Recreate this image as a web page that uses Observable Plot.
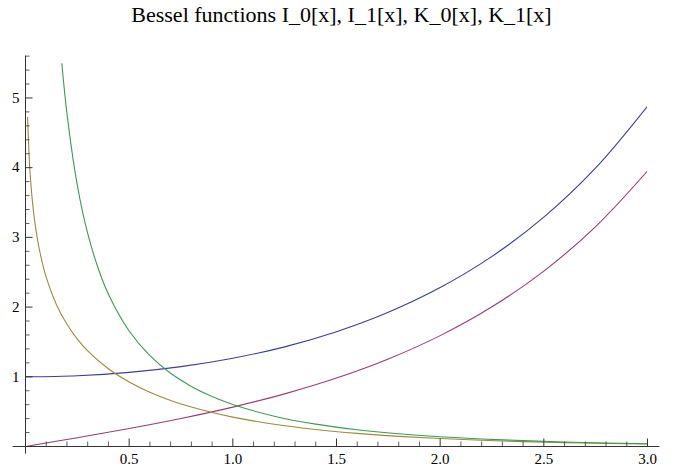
<!DOCTYPE html>
<html>
<head>
<meta charset="utf-8">
<script src="https://cdn.jsdelivr.net/npm/d3@7"></script>
<script src="https://cdn.jsdelivr.net/npm/@observablehq/plot@0.6"></script>
<style>
  html, body { margin: 0; padding: 0; background: #fff; }
  #title {
    width: 677px; height: 40px; box-sizing: border-box; padding-top: 4px; padding-left: 6px;
    text-align: center; font-family: 'Liberation Serif', 'DejaVu Serif', serif;
    font-size: 22px; line-height: 22px; color: #000;
  }
  #chart svg text { font-family: 'Liberation Serif', 'DejaVu Serif', serif !important; font-size: 15px !important; }
</style>
</head>
<body>
<div id="title">Bessel functions I_0[x], I_1[x], K_0[x], K_1[x]</div>
<div id="chart"></div>
<script>
// ---- data ----
const xI = [0, 0.25, 0.5, 0.75, 1.0, 1.25, 1.5, 1.75, 2.0, 2.25, 2.5, 2.75, 3.0];
const I0 = [1, 1.0157, 1.0635, 1.1456, 1.2661, 1.4296, 1.6467, 1.9253, 2.2796, 2.7271, 3.2898, 3.9959, 4.8808];
const I1 = [0, 0.1260, 0.2579, 0.4020, 0.5652, 0.7553, 0.9817, 1.2555, 1.5906, 2.0040, 2.5167, 3.1554, 3.9534];

const xK0 = [0.01, 0.02, 0.03, 0.04, 0.05, 0.07, 0.1, 0.15, 0.2, 0.25, 0.3, 0.4, 0.5, 0.6, 0.7, 0.8, 0.9, 1.0, 1.2, 1.4, 1.6, 1.8, 2.0, 2.2, 2.4, 2.6, 2.8, 3.0];
const K0 = [4.7212, 4.0285, 3.6235, 3.3365, 3.1142, 2.7798, 2.4271, 2.0300, 1.7527, 1.5415, 1.3725, 1.1145, 0.9244, 0.7775, 0.6605, 0.5653, 0.4867, 0.4210, 0.3185, 0.2437, 0.1880, 0.1459, 0.1139, 0.0893, 0.0702, 0.0554, 0.0438, 0.0347];

const xK1 = [0.15, 0.175, 0.2, 0.25, 0.3, 0.35, 0.4, 0.5, 0.6, 0.7, 0.8, 0.9, 1.0, 1.2, 1.4, 1.6, 1.8, 2.0, 2.2, 2.4, 2.6, 2.8, 3.0];
const K1 = [6.4775, 5.5065, 4.7760, 3.7470, 3.0560, 2.5610, 2.1844, 1.6564, 1.3028, 1.0503, 0.8618, 0.7165, 0.6019, 0.4346, 0.3208, 0.2406, 0.1826, 0.1399, 0.1079, 0.0837, 0.0653, 0.0511, 0.0402];

const seriesNames = ["I_0", "I_1", "K_0", "K_1"];
const seriesColors = ["#3D3D99", "#993D71", "#998B3D", "#3D9956"];

const xMajor = [0.5, 1.0, 1.5, 2.0, 2.5, 3.0];
const xMajorLabels = ["0.5", "1.0", "1.5", "2.0", "2.5", "3.0"];
const xMinor = [0.1, 0.2, 0.3, 0.4, 0.6, 0.7, 0.8, 0.9, 1.1, 1.2, 1.3, 1.4, 1.6, 1.7, 1.8, 1.9, 2.1, 2.2, 2.3, 2.4, 2.6, 2.7, 2.8, 2.9];
const yMajor = [1, 2, 3, 4, 5];
const yMajorLabels = ["1", "2", "3", "4", "5"];
const yMinor = [0.2, 0.4, 0.6, 0.8, 1.2, 1.4, 1.6, 1.8, 2.2, 2.4, 2.6, 2.8, 3.2, 3.4, 3.6, 3.8, 4.2, 4.4, 4.6, 4.8, 5.2, 5.4, 5.6];

// ---- build table ----
const rows = [];
xI.forEach((x, i) => { rows.push({s: "I_0", x, y: I0[i]}); });
xI.forEach((x, i) => { rows.push({s: "I_1", x, y: I1[i]}); });
xK0.forEach((x, i) => { rows.push({s: "K_0", x, y: K0[i]}); });
xK1.forEach((x, i) => { rows.push({s: "K_1", x, y: K1[i]}); });

// ---- layout ----
const W = 677, H = 426;
const mL = 25, mR = 30, mT = 23.3, mB = 20;
const xDom = [0, 3], yDom = [0, 5.49];
const kx = (W - mL - mR) / (xDom[1] - xDom[0]);
const ky = (H - mT - mB) / (yDom[1] - yDom[0]);
const padX = 0.06, padY = 0.11;
const majLen = 7.5, minLen = 4.5;
const axisColor = "#333";
const font = "'Liberation Serif', 'DejaVu Serif', serif";

const chart = Plot.plot({
  width: W, height: H,
  marginLeft: mL, marginRight: mR, marginTop: mT, marginBottom: mB,
  x: {domain: xDom, axis: null},
  y: {domain: yDom, axis: null},
  color: {domain: seriesNames, range: seriesColors},
  style: {fontFamily: font, background: "white"},
  marks: [
    Plot.line(rows, {x: "x", y: "y", z: "s", stroke: "s", strokeWidth: 1.1, curve: "catmull-rom", clip: true}),
    // axes lines
    Plot.ruleY([0], {x1: xDom[0] - padX, x2: xDom[1] + padX, stroke: axisColor, strokeWidth: 1}),
    Plot.ruleX([0], {y1: yDom[0] - padY, y2: yDom[1] + padY, stroke: axisColor, strokeWidth: 1}),
    // x ticks
    Plot.ruleX(xMajor, {x: d => d, y1: 0, y2: majLen / ky, stroke: axisColor, strokeWidth: 1}),
    Plot.ruleX(xMinor, {x: d => d, y1: 0, y2: minLen / ky, stroke: axisColor, strokeWidth: 0.8}),
    // y ticks
    Plot.ruleY(yMajor, {y: d => d, x1: 0, x2: majLen / kx, stroke: axisColor, strokeWidth: 1}),
    Plot.ruleY(yMinor, {y: d => d, x1: 0, x2: minLen / kx, stroke: axisColor, strokeWidth: 0.8}),
    // labels
    Plot.text(xMajor, {x: d => d, y: 0, text: (d, i) => xMajorLabels[i], dy: 13, textAnchor: "middle", lineAnchor: "middle", fontSize: 15, fontFamily: font, fill: "#000"}),
    Plot.text(yMajor, {x: 0, y: d => d, text: (d, i) => yMajorLabels[i], dx: -6, textAnchor: "end", lineAnchor: "middle", fontSize: 15, fontFamily: font, fill: "#000"})
  ]
});
document.getElementById("chart").appendChild(chart);
</script>
</body>
</html>
